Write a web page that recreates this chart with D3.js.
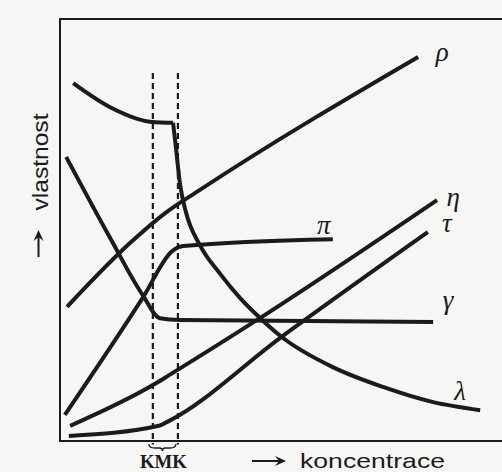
<!DOCTYPE html>
<html>
<head>
<meta charset="utf-8">
<script src="https://cdn.jsdelivr.net/npm/d3@7"></script>
<style>
  body { margin: 0; background: #f6f6f5; }
  svg { display: block; }
</style>
</head>
<body>
<script>
// SVG size
var w = 502, h = 472;

// curves, [concentration, property] in arbitrary units
var rho = [[0.16, 3.18], [1.59, 4.69], [2.39, 5.40], [3.18, 5.95], [8.14, 9.10]];
var lambdaLow = [[0.30, 8.48], [1.14, 7.91], [2.09, 7.56], [2.57, 7.54]];
var lambdaHigh = [[2.57, 7.54], [2.64, 6.90], [2.73, 6.07], [2.86, 5.43], [3.18, 4.64],
    [3.64, 3.96], [4.09, 3.39], [4.55, 2.91], [5.07, 2.44], [6.20, 1.75],
    [7.34, 1.28], [8.48, 0.92], [9.55, 0.73]];
var gamma = [[0.14, 6.73], [1.14, 4.81], [1.89, 3.44], [2.27, 2.91], [2.73, 2.87], [8.48, 2.82]];
var pi = [[0.11, 0.62], [1.89, 3.41], [2.55, 4.50], [2.80, 4.62], [6.20, 4.78]];
var eta = [[0.23, 0.36], [2.20, 1.38], [2.48, 1.56], [4.48, 2.87], [8.57, 5.71]];
var tau = [[0.20, 0.12], [2.25, 0.36], [2.45, 0.46], [5.00, 2.44], [8.36, 4.95]];

// KMK range (dashed lines)
var kmk = [2.11, 2.68];

// labels: symbol + which curve it belongs to
var labels = [
    { name: "ρ", curve: rho, dx: 24, dy: 4 },
    { name: "η", curve: eta, dx: 16, dy: 6 },
    { name: "τ", curve: tau, dx: 19, dy: 0 },
    { name: "π", curve: pi, dx: -9, dy: -5 },
    { name: "γ", curve: gamma, dx: 15, dy: -13 },
    { name: "λ", curve: lambdaHigh, dx: -20, dy: -10 }
];

var svg = d3.select("body")
    .append("svg")
    .attr("width", w)
    .attr("height", h);

var x = d3.scaleLinear()
    .domain([0, 10])
    .range([60, 500]);

var y = d3.scaleLinear()
    .domain([0, 10])
    .range([441, 19]);

var ink = "#1b1b1b";

// frame: left axis, bottom axis, top line (no right side)
svg.append("path")
    .attr("d", "M" + w + "," + y(10) + "H" + x(0) + "V" + y(0) + "H" + w)
    .attr("fill", "none")
    .attr("stroke", ink)
    .attr("stroke-width", 2);

// dashed KMK lines
svg.selectAll(".kmk")
    .data(kmk)
    .enter()
    .append("line")
    .attr("class", "kmk")
    .attr("x1", function(d){ return x(d); })
    .attr("x2", function(d){ return x(d); })
    .attr("y1", y(8.72))
    .attr("y2", y(-0.08))
    .attr("stroke", ink)
    .attr("stroke-width", 2.2)
    .attr("stroke-dasharray", "6,4");

// brace under the dashed lines
var bx0 = x(kmk[0]) - 4, bx1 = x(kmk[1]) - 2, bm = (bx0 + bx1) / 2, by = y(0) + 3;
svg.append("path")
    .attr("d", "M" + bx0 + "," + by + "Q" + bx0 + "," + (by + 4) + " " + (bx0 + 6) + "," + (by + 4) +
        "L" + (bm - 3) + "," + (by + 4) + "Q" + bm + "," + (by + 4) + " " + bm + "," + (by + 7) +
        "Q" + bm + "," + (by + 4) + " " + (bm + 3) + "," + (by + 4) +
        "L" + (bx1 - 6) + "," + (by + 4) + "Q" + bx1 + "," + (by + 4) + " " + bx1 + "," + by)
    .attr("fill", "none")
    .attr("stroke", ink)
    .attr("stroke-width", 1.3);

// curves
var line = d3.line()
    .x(function(d){ return x(d[0]); })
    .y(function(d){ return y(d[1]); })
    .curve(d3.curveMonotoneX);

svg.selectAll(".curve")
    .data([rho, lambdaLow, lambdaHigh, gamma, pi, eta, tau])
    .enter()
    .append("path")
    .attr("class", "curve")
    .attr("d", line)
    .attr("fill", "none")
    .attr("stroke", ink)
    .attr("stroke-width", 4)
    .attr("stroke-linejoin", "round");

// greek labels at the curve ends
svg.selectAll(".sym")
    .data(labels)
    .enter()
    .append("text")
    .attr("class", "sym")
    .attr("x", function(d){ return x(d.curve[d.curve.length - 1][0]) + d.dx; })
    .attr("y", function(d){ return y(d.curve[d.curve.length - 1][1]) + d.dy; })
    .attr("text-anchor", "middle")
    .style("font-family", "'Liberation Serif', serif")
    .style("font-style", "italic")
    .style("font-size", "27px")
    .style("fill", ink)
    .text(function(d){ return d.name; });

// axis titles
svg.append("text")
    .attr("transform", "translate(48,162) rotate(-90)")
    .attr("text-anchor", "middle")
    .attr("textLength", 97)
    .attr("lengthAdjust", "spacingAndGlyphs")
    .style("font-family", "'Liberation Sans', Arial, sans-serif")
    .style("font-size", "22px")
    .style("fill", ink)
    .text("vlastnost");

svg.append("text")
    .attr("x", 300)
    .attr("y", 468)
    .attr("textLength", 145)
    .attr("lengthAdjust", "spacingAndGlyphs")
    .style("font-family", "'Liberation Sans', Arial, sans-serif")
    .style("font-size", "21px")
    .style("fill", ink)
    .text("koncentrace");

svg.append("text")
    .attr("x", 140)
    .attr("y", 468)
    .attr("textLength", 47)
    .attr("lengthAdjust", "spacingAndGlyphs")
    .style("font-family", "'Liberation Serif', serif")
    .style("font-weight", "bold")
    .style("font-size", "19px")
    .style("fill", ink)
    .text("KMK");

// arrows next to the axis titles
function arrow(x1, y1, x2, y2) {
    var a = Math.atan2(y2 - y1, x2 - x1), L = 11, W = 5;
    svg.append("line")
        .attr("x1", x1).attr("y1", y1)
        .attr("x2", x2 - Math.cos(a) * 6).attr("y2", y2 - Math.sin(a) * 6)
        .attr("stroke", ink)
        .attr("stroke-width", 2);
    var bx = x2 - Math.cos(a) * L, byy = y2 - Math.sin(a) * L;
    svg.append("path")
        .attr("d", "M" + x2 + "," + y2 +
            "L" + (bx - Math.sin(a) * W) + "," + (byy + Math.cos(a) * W) +
            "L" + (x2 - Math.cos(a) * 7) + "," + (y2 - Math.sin(a) * 7) +
            "L" + (bx + Math.sin(a) * W) + "," + (byy - Math.cos(a) * W) + "Z")
        .attr("fill", ink);
}
arrow(38.5, 257, 38.5, 230);
arrow(252, 461, 286, 461);
</script>
</body>
</html>
